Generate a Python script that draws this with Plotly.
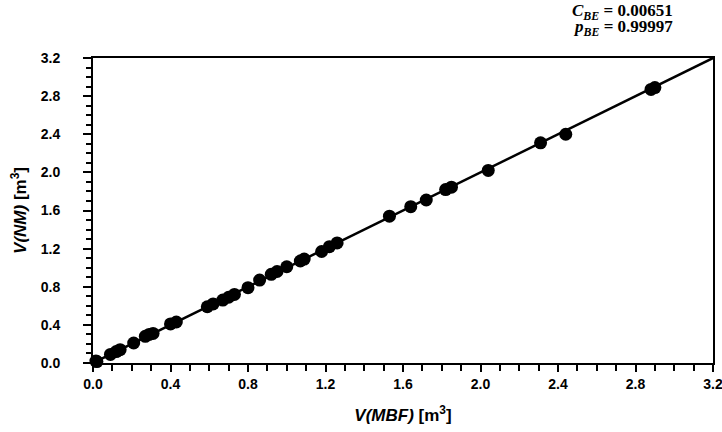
import plotly.graph_objects as go

# Volumes measured by the two methods (m^3)
v_mbf = [0.015, 0.02, 0.09, 0.12, 0.14, 0.21, 0.27, 0.29, 0.31, 0.40, 0.43,
         0.59, 0.62, 0.67, 0.70, 0.73, 0.80, 0.86, 0.92, 0.95, 1.00, 1.07,
         1.09, 1.18, 1.22, 1.26, 1.53, 1.64, 1.72, 1.82, 1.85, 2.04, 2.31,
         2.44, 2.88, 2.90]
v_nm = [0.02, 0.015, 0.09, 0.12, 0.14, 0.21, 0.28, 0.30, 0.31, 0.41, 0.43,
        0.59, 0.62, 0.66, 0.69, 0.72, 0.79, 0.87, 0.93, 0.96, 1.01, 1.07,
        1.09, 1.17, 1.22, 1.26, 1.54, 1.64, 1.71, 1.82, 1.845, 2.02, 2.31,
        2.40, 2.87, 2.89]

# Regression line endpoints
fit_x = [0.0, 3.2]
fit_y = [0.0, 3.2]

c_be = "0.00651"
p_be = "0.99997"

fig = go.Figure()
fig.add_trace(go.Scatter(x=fit_x, y=fit_y, mode="lines",
                         line=dict(color="black", width=2.5),
                         showlegend=False, hoverinfo="skip"))
fig.add_trace(go.Scatter(x=v_mbf, y=v_nm, mode="markers",
                         marker=dict(color="black", size=13),
                         cliponaxis=False, showlegend=False))

tick_font = dict(family="Liberation Sans, Arial", size=14, color="black")
title_font = dict(family="Liberation Sans, Arial", size=17, color="black")

axis_common = dict(
    range=[0, 3.2], dtick=0.4, tick0=0, tickformat=".1f",
    showline=True, linecolor="black", linewidth=2, mirror=True,
    showgrid=False, zeroline=False, ticks="outside", tickwidth=1.5,
    tickcolor="black", tickfont=tick_font, automargin=False,
    ticklabeloverflow="allow",
)

fig.update_xaxes(
    **axis_common, ticklen=7,
    minor=dict(dtick=0.1, ticks="outside", ticklen=6, tickwidth=1.5,
               tickcolor="black", showgrid=False),
    tickprefix="<b>", ticksuffix="</b>",
    title=dict(text="<b><i>V(MBF)</i> [m<sup>3</sup>]</b>", font=title_font,
               standoff=18),
)
fig.update_yaxes(
    **axis_common, ticklen=8, ticklabelstandoff=20,
    minor=dict(dtick=0.1, ticks="outside", ticklen=5, tickwidth=1.5,
               tickcolor="black", showgrid=False),
    tickprefix="<b>", ticksuffix="</b>",
    title=dict(text="<b><i>V(NM)</i> [m<sup>3</sup>]</b>", font=title_font,
               standoff=10),
)

stat_font = dict(family="Liberation Serif, Times New Roman", size=17,
                 color="black")
fig.add_annotation(
    xref="paper", yref="paper", x=0.939, y=1.15,
    xanchor="right", yanchor="middle", showarrow=False,
    text=f"<b><i>C</i><sub><i>BE</i></sub> = {c_be}</b>", font=stat_font,
)
fig.add_annotation(
    xref="paper", yref="paper", x=0.939, y=1.097,
    xanchor="right", yanchor="middle", showarrow=False,
    text=f"<b><i>p</i><sub><i>BE</i></sub> = {p_be}</b>", font=stat_font,
)

fig.update_layout(
    width=722, height=432,
    margin=dict(l=93, r=9, t=58, b=69, autoexpand=False),
    paper_bgcolor="white", plot_bgcolor="white",
)

fig.write_html("out.html")
